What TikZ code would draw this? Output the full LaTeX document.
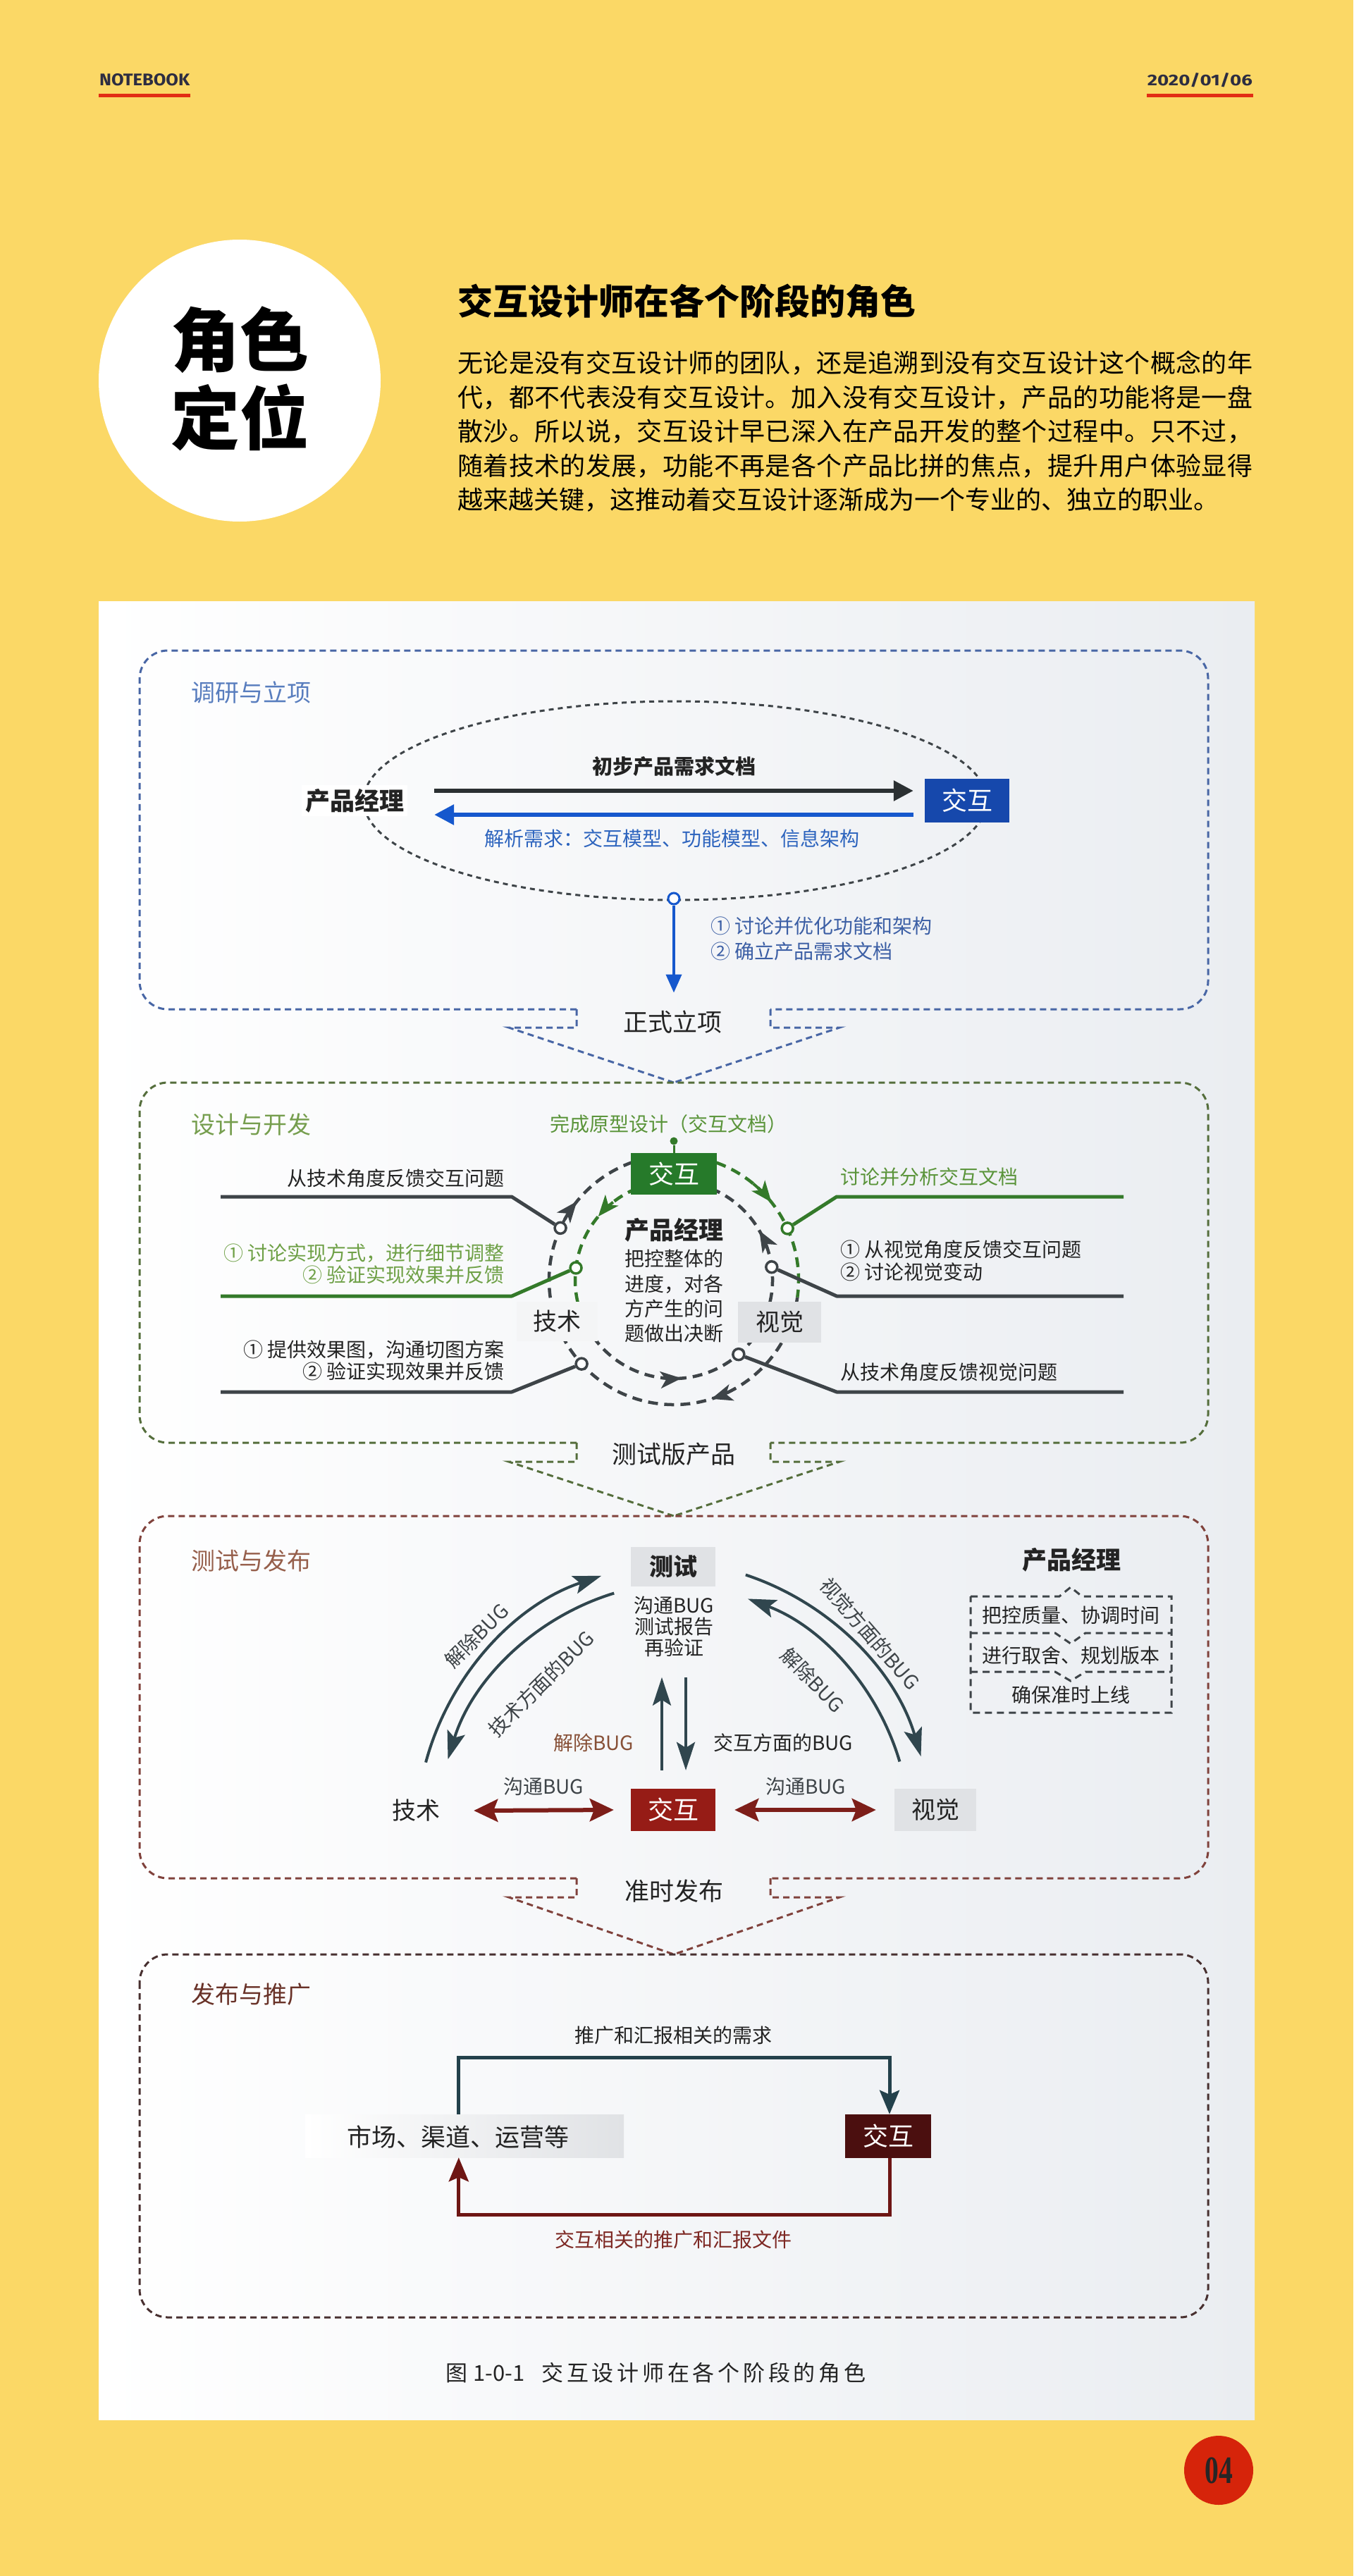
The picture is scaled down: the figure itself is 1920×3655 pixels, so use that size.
\documentclass[tikz,border=0pt]{standalone}
\usepackage{graphicx}
\usepackage{fontspec}
\setmainfont{Noto Sans CJK SC}
\newfontfamily\hdfont{Fira Sans}
\newfontfamily\numfont{Liberation Serif}
\usetikzlibrary{arrows.meta,calc}
\newcommand\myfs[1]{\fontsize{#1}{#1}\selectfont}
\def\sprd#1{#1\sprdaux}
\def\sprdaux#1{\ifx\relax#1\else\hfill#1\expandafter\sprdaux\fi}
\definecolor{cbgy}{RGB}{251,216,102}
\definecolor{credl}{RGB}{226,45,20}
\definecolor{chd}{RGB}{45,45,65}
\definecolor{cpg}{RGB}{214,36,10}
\definecolor{cpanel}{RGB}{234,237,241}
\definecolor{ctxt}{RGB}{35,35,35}
\definecolor{cs1}{RGB}{72,102,165}
\definecolor{cs1t}{RGB}{88,125,190}
\definecolor{cblu}{RGB}{22,88,205}
\definecolor{cbluebox}{RGB}{22,72,172}
\definecolor{cblutxt}{RGB}{45,100,190}
\definecolor{cblutxt2}{RGB}{60,95,165}
\definecolor{cs2}{RGB}{85,110,60}
\definecolor{cs2t}{RGB}{118,158,78}
\definecolor{cgrn}{RGB}{52,122,42}
\definecolor{cgrnbox}{RGB}{38,122,42}
\definecolor{cgrntxt}{RGB}{90,148,58}
\definecolor{cgrntxt2}{RGB}{110,160,70}
\definecolor{cdark}{RGB}{62,68,72}
\definecolor{cslate}{RGB}{48,70,78}
\definecolor{cs3}{RGB}{128,66,60}
\definecolor{cs3t}{RGB}{150,95,75}
\definecolor{credbox}{RGB}{150,28,22}
\definecolor{credarr}{RGB}{125,30,25}
\definecolor{cbrown}{RGB}{135,80,55}
\definecolor{cs4}{RGB}{72,48,48}
\definecolor{cs4t}{RGB}{105,50,40}
\definecolor{cmaroon}{RGB}{75,15,15}
\definecolor{cteal}{RGB}{35,65,75}
\definecolor{cdred}{RGB}{110,22,20}
\definecolor{credtxt}{RGB}{125,40,35}
\definecolor{cgbox}{RGB}{224,226,229}
\tikzset{
  lbl/.style={inner sep=0pt, font=\myfs{28}, text=ctxt, text height=24.1pt, text depth=2.8pt},
  seclbl/.style={inner sep=0pt, anchor=west, font=\myfs{34}, text height=29.2pt, text depth=3.4pt},
  stage/.style={inner sep=0pt, font=\myfs{35}, text=ctxt, text height=30.1pt, text depth=3.5pt},
  big/.style={inner sep=0pt, font=\myfs{35}\bfseries, text=ctxt, text height=30.1pt, text depth=3.5pt},
  para/.style={anchor=west, inner sep=0pt, font=\myfs{36}, text=black, text height=31pt, text depth=3.6pt},
  secbox/.style={line width=3pt, dash pattern=on 9pt off 6pt, rounded corners=40pt},
  funnel/.style={line width=3pt, dash pattern=on 9pt off 6pt},
  ixbox/.style={inner sep=0pt, minimum width=120pt, minimum height=60pt, text=white, font=\myfs{36}},
  graybox/.style={inner sep=0pt, minimum width=116pt, minimum height=58pt, fill=cgbox, font=\myfs{34}, text=ctxt},
  circdash/.style={line width=4.5pt, dash pattern=on 14pt off 9pt},
  arrc/.style={line width=4pt, solid, -{Stealth[length=30pt,width=24pt,inset=8pt]}},
  mk/.style={circle, draw, line width=3.5pt, fill=white, minimum size=16pt, inner sep=0pt},
  feed/.style={line width=5pt, line join=round},
  sarr/.style={line width=4pt, draw=cslate, -{Stealth[length=40pt,width=26pt,inset=8pt]}},
  sarc/.style={line width=4pt, draw=cslate, -{Stealth[length=40pt,width=26pt,inset=8pt]}},
  darr/.style={line width=6pt, draw=credarr, {Stealth[length=34pt,width=32pt,inset=6pt]}-{Stealth[length=34pt,width=32pt,inset=6pt]}},
  pmdash/.style={line width=3pt, draw=cdark, dash pattern=on 10pt off 7pt},
  bigarr/.style={line width=6pt, -{Triangle[length=28pt,width=28pt]}},
  loopline/.style={line width=5pt, -{Stealth[length=34pt,width=28pt,inset=6pt]}},
}
\begin{document}
\begin{tikzpicture}[x=1pt,y=-1pt]
\useasboundingbox (0,0) rectangle (1920,3655);
\fill[cbgy] (0,0) rectangle (1920,3655);

% header
\node[anchor=base west, inner sep=0pt, text=chd] (nb) at (141,122) {\resizebox{128pt}{17pt}{\hdfont\bfseries NOTEBOOK}};
\node[anchor=base east, inner sep=0pt, text=chd] (dt) at (1777,122) {\resizebox{149pt}{18pt}{\hdfont\bfseries 2020/01/06}};
\fill[credl] ($(nb.base west)+(-1,11)$) rectangle ($(nb.base east)+(1,16)$);
\fill[credl] ($(dt.base west)+(-1,11)$) rectangle ($(dt.base east)+(1,16)$);

% badge
\node[circle, fill=white, minimum size=400pt, inner sep=0pt] (badge) at (340,540) {};
\node[inner sep=0pt, font=\myfs{98}\bfseries, text=black, text height=84pt, text depth=10pt] (bg1) at (340,482) {角色};
\node[inner sep=0pt, font=\myfs{98}\bfseries, text=black, text height=84pt, text depth=10pt] (bg2) at (340,593) {定位};

% title and paragraph
\node[anchor=west, inner sep=0pt, font=\myfs{50}\bfseries, text=black] (ttl) at (649,427) {交互设计师在各个阶段的角色};
\node[para] (p1) at (649,515) {\hbox to 1128pt{\sprd 无论是没有交互设计师的团队，还是追溯到没有交互设计这个概念的年\relax}};
\node[para] (p2) at (649,564) {\hbox to 1128pt{\sprd 代，都不代表没有交互设计。加入没有交互设计，产品的功能将是一盘\relax}};
\node[para] (p3) at (649,612) {\hbox to 1128pt{\sprd 散沙。所以说，交互设计早已深入在产品开发的整个过程中。只不过，\relax}};
\node[para] (p4) at (649,661) {\hbox to 1128pt{\sprd 随着技术的发展，功能不再是各个产品比拼的焦点，提升用户体验显得\relax}};
\node[para] (p5) at (649,709) {\hbox to 1064pt{\sprd 越来越关键，这推动着交互设计逐渐成为一个专业的、独立的职业。\relax}};

% panel
\shade[left color=white, middle color=white, right color=cpanel] (140,853) rectangle (1780,3433);

% ===== Section 1
\draw[secbox, draw=cs1] (818,1432) -- (198,1432) -- (198,923) -- (1714,923) -- (1714,1432) -- (1093,1432);
\draw[funnel, draw=cs1] (818,1432) -- (818,1458) -- (722,1458) -- (956,1536);
\draw[funnel, draw=cs1] (1093,1432) -- (1093,1458) -- (1191,1458) -- (956,1536);
\node[seclbl, text=cs1t] (t1) at (271,983) {调研与立项};
\draw[line width=3pt, draw=cdark, dash pattern=on 7pt off 6pt] (958,1136) ellipse [x radius=442, y radius=141];
\node[big, inner sep=5pt, fill=white] (pm1) at (503,1136) {产品经理};
\node[ixbox, fill=cbluebox, minimum height=62pt] (ix1) at (1372,1136) {交互};
\draw[bigarr, draw=cdark!70!black] ($(pm1.east)+(38,-14)$) -- ($(ix1.west)+(-16,-14)$);
\draw[bigarr, draw=cblu] ($(ix1.west)+(-16,20)$) -- ($(pm1.east)+(38,20)$);
\node[lbl, font=\myfs{29}\bfseries] (d1) at (956,1088) {初步产品需求文档};
\node[lbl, text=cblutxt] (d2) at (953,1190) {解析需求：交互模型、功能模型、信息架构};
\node[circle, draw=cblu, line width=3pt, fill=white, minimum size=16pt, inner sep=0pt] (o1) at (956,1275) {};
\node[stage] (zl1) at (954,1450) {正式立项};
\draw[line width=4pt, draw=cblu, -{Triangle[length=26pt,width=22pt]}] (o1.south) -- ($(o1.south)+(0,124)$);
\node[lbl, anchor=west, text=cblutxt2] (n11) at (1008,1314) {① 讨论并优化功能和架构};
\node[lbl, anchor=west, text=cblutxt2] (n12) at (1008,1350) {② 确立产品需求文档};

% ===== Section 2
\draw[secbox, draw=cs2] (818,2047) -- (198,2047) -- (198,1536) -- (1714,1536) -- (1714,2047) -- (1093,2047);
\draw[funnel, draw=cs2] (818,2047) -- (818,2074) -- (722,2074) -- (956,2151);
\draw[funnel, draw=cs2] (1093,2047) -- (1093,2074) -- (1191,2074) -- (956,2151);
\node[seclbl, text=cs2t] (t2) at (271,1596) {设计与开发};
\node[lbl, text=cgrntxt] (d3) at (948,1595) {完成原型设计（交互文档）};
\coordinate (cc) at (956,1816);
\draw[circdash, draw=cdark] (cc) ++(8:177) arc[start angle=8, end angle=290, radius=177];
\draw[circdash, draw=cgrn] (cc) ++(290:177) arc[start angle=290, end angle=368, radius=177];
\draw[circdash, draw=cgrn] (cc) ++(167:140) arc[start angle=167, end angle=245, radius=140];
\draw[circdash, draw=cdark] (cc) ++(245:140) arc[start angle=245, end angle=527, radius=140];
\draw[arrc, draw=cdark, fill=cdark] (cc) ++(207:177) arc[start angle=207, end angle=219, radius=177];
\draw[arrc, draw=cgrn, fill=cgrn] (cc) ++(309.5:177) arc[start angle=309.5, end angle=321.5, radius=177];
\draw[arrc, draw=cdark, fill=cdark] (cc) ++(60.5:177) arc[start angle=60.5, end angle=72.5, radius=177];
\draw[arrc, draw=cgrn, fill=cgrn] (cc) ++(232:140) arc[start angle=232, end angle=220, radius=140];
\draw[arrc, draw=cdark, fill=cdark] (cc) ++(97.5:140) arc[start angle=97.5, end angle=85.5, radius=140];
\draw[arrc, draw=cdark, fill=cdark] (cc) ++(342:140) arc[start angle=342, end angle=330, radius=140];
\node[ixbox, fill=cgrnbox, minimum width=122pt, minimum height=59pt] (ix2) at (956,1665.5) {交互};
\node[circle, fill=cgrn, minimum size=11pt, inner sep=0pt] (dot2) at (956,1619) {};
\draw[line width=3pt, draw=cgrn] (dot2) -- (ix2.north);
% markers
\node[mk, draw=cdark] (m1) at ($(cc)+(204.6:177)$) {};
\node[mk, draw=cgrn] (m2) at ($(cc)+(187:140)$) {};
\node[mk, draw=cdark] (m3) at ($(cc)+(137.7:177)$) {};
\node[mk, draw=cgrn] (m4) at ($(cc)+(-24.4:177)$) {};
\node[mk, draw=cdark] (m5) at ($(cc)+(-7.5:140)$) {};
\node[mk, draw=cdark] (m6) at ($(cc)+(49:140)$) {};
\coordinate (l1s) at (313,1698); \coordinate (l1b) at (726,1698);
\coordinate (l2s) at (313,1839); \coordinate (l2b) at (726,1839);
\coordinate (l3s) at (313,1975); \coordinate (l3b) at (726,1975);
\coordinate (r1s) at (1594,1698); \coordinate (r1b) at (1187,1698);
\coordinate (r2s) at (1594,1839); \coordinate (r2b) at (1187,1839);
\coordinate (r3s) at (1594,1975); \coordinate (r3b) at (1187,1975);
\draw[feed, draw=cdark] (l1s) -- (l1b) -- (m1);
\draw[feed, draw=cgrn] (l2s) -- (l2b) -- (m2);
\draw[feed, draw=cdark] (l3s) -- (l3b) -- (m3);
\draw[feed, draw=cgrn] (r1s) -- (r1b) -- (m4);
\draw[feed, draw=cdark] (r2s) -- (r2b) -- (m5);
\draw[feed, draw=cdark] (r3s) -- (r3b) -- (m6);
\node[lbl, anchor=east] (a1) at (716,1672) {从技术角度反馈交互问题};
\node[lbl, anchor=east, text=cgrntxt2] (a2) at (716,1778) {① 讨论实现方式，进行细节调整};
\node[lbl, anchor=east, text=cgrntxt2] (a3) at (716,1809) {② 验证实现效果并反馈};
\node[lbl, anchor=east] (a4) at (716,1915) {① 提供效果图，沟通切图方案};
\node[lbl, anchor=east] (a5) at (716,1946) {② 验证实现效果并反馈};
\node[lbl, anchor=west, text=cgrntxt] (b1) at (1192,1670) {讨论并分析交互文档};
\node[lbl, anchor=west] (b2) at (1192,1773) {① 从视觉角度反馈交互问题};
\node[lbl, anchor=west] (b3) at (1192,1805) {② 讨论视觉变动};
\node[lbl, anchor=west] (b4) at (1192,1947) {从技术角度反馈视觉问题};
\node[graybox, fill=cgbox!35, minimum width=115pt, minimum height=56pt] (js2) at (790,1875) {技术};
\node[graybox, minimum width=118pt, minimum height=58pt] (sj2) at (1106,1876) {视觉};
\node[big] (pm2) at (956,1745) {产品经理};
\node[lbl] (c1) at (956,1786) {把控整体的};
\node[lbl] (c2) at (956,1822) {进度，对各};
\node[lbl] (c3) at (956,1857) {方产生的问};
\node[lbl] (c4) at (956,1892) {题做出决断};
\node[stage] (zl2) at (956,2063) {测试版产品};

% ===== Section 3
\draw[secbox, draw=cs3] (818,2665) -- (198,2665) -- (198,2151) -- (1714,2151) -- (1714,2665) -- (1093,2665);
\draw[funnel, draw=cs3] (818,2665) -- (818,2692) -- (722,2692) -- (956,2773);
\draw[funnel, draw=cs3] (1093,2665) -- (1093,2692) -- (1191,2692) -- (956,2773);
\node[seclbl, text=cs3t] (t3) at (271,2215) {测试与发布};
\node[graybox, minimum width=120pt, minimum height=56pt, font=\myfs{34}\bfseries] (cs3n) at (955,2223) {测试};
\node[lbl] (e1) at (956,2278) {沟通BUG};
\node[lbl] (e2) at (956,2308) {测试报告};
\node[lbl] (e3) at (956,2338) {再验证};
\node[ixbox, fill=credbox] (ix3) at (955,2568) {交互};
\node[inner sep=0pt, font=\myfs{34}, text=ctxt] (js3) at (590,2569) {技术};
\node[graybox, minimum height=60pt] (sj3) at (1327,2568) {视觉};
\draw[sarr] ($(ix3.north)+(-16,-26)$) -- ($(ix3.north)+(-16,-158)$);
\draw[sarr] ($(ix3.north)+(18,-158)$) -- ($(ix3.north)+(18,-26)$);
\node[lbl, text=cbrown] (e4) at (842,2473) {解除BUG};
\node[lbl] (e5) at (1111,2473) {交互方面的BUG};
\draw[darr] ($(js3.east)+(48,0)$) -- ($(ix3.west)+(-24,0)$);
\draw[darr] ($(ix3.east)+(27,0)$) -- ($(sj3.west)+(-26,0)$);
\node[lbl, text=cdark] (e6) at (771,2535) {沟通BUG};
\node[lbl, text=cdark] (e7) at (1143,2535) {沟通BUG};
\coordinate (lc) at (975,2600);
\coordinate (rc) at (937,2600);
\draw[sarc] (lc) ++(195:384) arc[start angle=195, end angle=251.5, radius=384];
\draw[sarc] (lc) ++(253:355) arc[start angle=253, end angle=197, radius=355];
\draw[sarc] (rc) ++(288.3:385) arc[start angle=288.3, end angle=343.7, radius=385];
\draw[sarc] (rc) ++(343.5:354) arc[start angle=343.5, end angle=290.5, radius=354];
\node[lbl, text=cdark, rotate=45] (f1) at (676,2321) {解除BUG};
\node[lbl, text=cdark, rotate=45] (f2) at (768,2389) {技术方面的BUG};
\node[lbl, text=cdark, rotate=-49] (f3) at (1234,2318) {视觉方面的BUG};
\node[lbl, text=cdark, rotate=-46] (f4) at (1153,2384) {解除BUG};
\node[big] (pm3) at (1520,2213) {产品经理};
\draw[pmdash] (1377,2265) -- (1503,2265) -- (1519,2252) -- (1535,2265) -- (1662,2265) -- (1662,2430) -- (1377,2430) -- cycle;
\draw[pmdash] (1377,2317) -- (1497,2317) -- (1519,2332) -- (1540,2317) -- (1662,2317);
\draw[pmdash] (1377,2372) -- (1497,2372) -- (1519,2385) -- (1540,2372) -- (1662,2372);
\node[lbl] (g1) at (1519,2292) {把控质量、协调时间};
\node[lbl] (g2) at (1519,2349) {进行取舍、规划版本};
\node[lbl] (g3) at (1519,2405) {确保准时上线};
\node[stage] (zl3) at (956,2683) {准时发布};

% ===== Section 4
\draw[secbox, draw=cs4] (198,2773) rectangle (1714,3288);
\node[seclbl, text=cs4t] (t4) at (271,2830) {发布与推广};
\node[lbl] (h1) at (955,2888) {推广和汇报相关的需求};
\node[inner sep=0pt, minimum width=452pt, minimum height=61pt, left color=white, right color=cgbox] (mk4) at (659,3030.5) {};
\node[stage] (mkt) at (650,3032) {市场、渠道、运营等};
\node[ixbox, fill=cmaroon, minimum width=122pt, minimum height=62pt] (ix4) at (1260,3031) {交互};
\draw[loopline, draw=cteal] ($(mk4.north west)+(218,0)$) -- ++(0,-80) -| ($(ix4.north)+(2,0)$);
\draw[loopline, draw=cdred] ($(ix4.south)+(2,0)$) -- ++(0,80) -| ($(mk4.south west)+(218,0)$);
\node[lbl, text=credtxt] (h2) at (955,3178) {交互相关的推广和汇报文件};

% caption
\node[inner sep=0pt, font=\myfs{31}, text=ctxt, anchor=west] (cap) at (632,3367) {图\hspace{8pt}1-0-1\hspace{24pt}\hbox to 460pt{\sprd 交互设计师在各个阶段的角色\relax}};

% page number
\node[circle, fill=cpg, minimum size=98pt, inner sep=0pt] (pg) at (1729,3505) {};
\node[inner sep=0pt, font={\numfont\bfseries\myfs{44}}, text=black!85] (pgn) at (pg.center) {\scalebox{0.9}[1.25]{04}};
\end{tikzpicture}
\end{document}
